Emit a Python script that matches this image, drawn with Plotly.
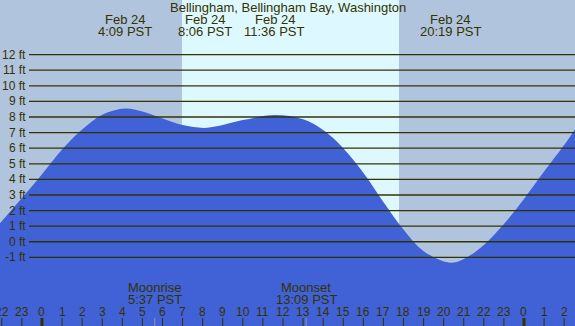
import plotly.graph_objects as go

# ---- data ----
title = "Bellingham, Bellingham Bay, Washington"
tide_hours = [-2.09, -1, 0, 1, 2, 3, 4.15, 5, 6, 7, 8.1, 9, 10, 11.6, 13, 14, 15,
              16, 17, 18, 19, 20.32, 21, 22, 23, 24, 25, 26, 26.54]
tide_ft = [1.18, 2.8, 4.33, 5.92, 7.2, 8.15, 8.55, 8.35, 7.9, 7.48, 7.3, 7.48, 7.8,
           8.12, 7.85, 7.16, 6.0, 4.43, 2.55, 0.78, -0.6, -1.34, -1.1, -0.2, 1.14,
           2.75, 4.5, 6.2, 7.2]

extreme_hours = [4.15, 8.1, 11.6, 20.32]
extreme_dates = ["Feb 24", "Feb 24", "Feb 24", "Feb 24"]
extreme_times = ["4:09 PST", "8:06 PST", "11:36 PST", "20:19 PST"]

moon_hours = [5.617, 13.15]
moon_events = ["Moonrise", "Moonset"]
moon_times = ["5:37 PST", "13:09 PST"]

sunrise_h = 6.97
sunset_h = 17.78

ft_ticks = [12, 11, 10, 9, 8, 7, 6, 5, 4, 3, 2, 1, 0, -1]
ft_labels = [f"{v} ft" for v in ft_ticks]

hour_ticks = list(range(-2, 27))
hour_labels = [str(h % 24) for h in hour_ticks]

x_range = [-2.09, 26.54]
y_range = [-5.4, 15.5]

# ---- styles ----
NIGHT = "#B0C4DE"
DAY = "#DEF8FF"
WATER = "#4161D6"
INK = "#333300"
FONT = "Liberation Sans, Arial, sans-serif"

fig = go.Figure()

# baseline for fill
fig.add_trace(go.Scatter(x=[x_range[0], x_range[1]], y=[y_range[0] - 1] * 2,
                         mode="lines", line=dict(width=0), hoverinfo="skip",
                         showlegend=False))
fig.add_trace(go.Scatter(x=tide_hours, y=tide_ft, mode="lines",
                         line=dict(width=0, shape="spline", color=WATER),
                         fill="tonexty", fillcolor=WATER, hoverinfo="skip",
                         showlegend=False))

shapes = []
# night / day backgrounds
shapes.append(dict(type="rect", xref="x", yref="paper", x0=x_range[0], x1=sunrise_h,
                   y0=0, y1=1, fillcolor=NIGHT, line=dict(width=0), layer="below"))
shapes.append(dict(type="rect", xref="x", yref="paper", x0=sunrise_h, x1=sunset_h,
                   y0=0, y1=1, fillcolor=DAY, line=dict(width=0), layer="below"))
shapes.append(dict(type="rect", xref="x", yref="paper", x0=sunset_h, x1=x_range[1],
                   y0=0, y1=1, fillcolor=NIGHT, line=dict(width=0), layer="below"))

W, H = 575, 326
# horizontal grid lines
for v in ft_ticks:
    shapes.append(dict(type="line", xref="paper", yref="y", x0=29 / W, x1=1,
                       y0=v, y1=v, line=dict(color=INK, width=1.3), layer="above"))

# hour ticks
for h in hour_ticks:
    mid = (h % 24 == 0)
    shapes.append(dict(type="line", xref="x", yref="paper", x0=h, x1=h,
                       y0=0, y1=8 / H, line=dict(color=INK, width=3 if mid else 1),
                       layer="above"))
# moon ticks
for h in moon_hours:
    shapes.append(dict(type="line", xref="x", yref="paper", x0=h, x1=h,
                       y0=0, y1=8 / H, line=dict(color="#999999", width=1),
                       layer="above"))


def py(pix):
    return 1 - pix / H


def txt(text, x, y, xref="x", size=13, **kw):
    return dict(text=text, xref=xref, yref="paper", x=x, y=y, yanchor="middle",
                showarrow=False, font=dict(size=size, color=INK, family=FONT), **kw)


ann = [txt(title, 0.5, py(7.5), xref="paper")]
for h, d, t in zip(extreme_hours, extreme_dates, extreme_times):
    ann.append(txt(d, h, py(19.5)))
    ann.append(txt(t, h, py(31.5)))
for h, e, t in zip(moon_hours, moon_events, moon_times):
    ann.append(txt(e, h, py(287.5)))
    ann.append(txt(t, h, py(299.5)))
for v, t in zip(ft_ticks, ft_labels):
    ann.append(dict(text=t, xref="paper", yref="y", x=28 / W, y=v, xanchor="right",
                    yanchor="middle", showarrow=False,
                    font=dict(size=12, color=INK, family=FONT)))
for h, t in zip(hour_ticks, hour_labels):
    ann.append(txt(t, h, py(312), size=12))

fig.update_layout(
    width=W, height=H, margin=dict(l=0, r=0, t=0, b=0),
    paper_bgcolor=NIGHT, plot_bgcolor=NIGHT,
    xaxis=dict(range=x_range, visible=False, fixedrange=True),
    yaxis=dict(range=y_range, visible=False, fixedrange=True),
    shapes=shapes, annotations=ann, showlegend=False,
)

fig.write_html("out.html", config={"displayModeBar": False},
               post_script="document.body.style.margin='0';"
                           "document.body.style.overflow='hidden';")
